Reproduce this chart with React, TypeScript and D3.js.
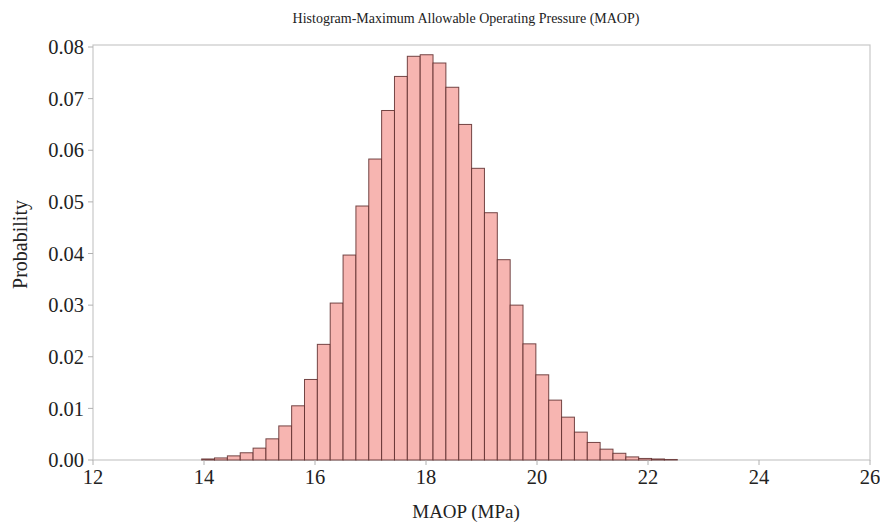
import React from "react";
import * as d3 from "d3";

const title = "Histogram-Maximum Allowable Operating Pressure (MAOP)";
const xLabel = "MAOP (MPa)";
const yLabel = "Probability";
const xTicks = [12, 14, 16, 18, 20, 22, 24, 26];
const yTicks = [0, 0.01, 0.02, 0.03, 0.04, 0.05, 0.06, 0.07, 0.08];
const binStart = 13.958;
const binWidth = 0.2316;
const probabilities = [
  0.0002, 0.0004, 0.0008, 0.0014, 0.0023, 0.0041, 0.0066, 0.0105, 0.0156,
  0.0224, 0.0304, 0.0397, 0.0492, 0.0583, 0.0677, 0.0743, 0.0782, 0.0785,
  0.0769, 0.0722, 0.065, 0.0565, 0.0479, 0.0388, 0.03, 0.0225, 0.0165,
  0.0116, 0.0083, 0.0054, 0.0034, 0.0021, 0.0013, 0.0006, 0.0003, 0.0002,
  0.0001,
];

const W = 880;
const H = 524;
const left = 93;
const right = 870;
const top = 45;
const bottom = 460;
const font =
  "'Times New Roman', Times, 'Liberation Serif', 'DejaVu Serif', 'Noto Serif', serif";

export default function App() {
  const x = d3.scaleLinear().domain([12, 26]).range([left, right]);
  const y = d3.scaleLinear().domain([0, 0.08]).range([bottom, top + 2]);
  const bins = probabilities.map((p, i) => ({
    x0: binStart + i * binWidth,
    x1: binStart + (i + 1) * binWidth,
    p,
  }));
  const txt = { fontFamily: font, fill: "#222" } as React.CSSProperties;
  return (
    <div style={{ fontFamily: font }}>
      <svg
        width={W}
        height={H}
        style={{ position: "absolute", left: 0, top: 0, background: "#fff" }}
      >
        <rect
          x={left}
          y={top}
          width={right - left}
          height={bottom - top}
          fill="none"
          stroke="#c8c8c8"
          strokeWidth={1.2}
        />
        {bins.map((b, i) => (
          <rect
            key={i}
            x={x(b.x0)}
            y={y(b.p)}
            width={x(b.x1) - x(b.x0)}
            height={bottom - y(b.p)}
            fill="#f7b5b1"
            stroke="#5c2a2a"
            strokeOpacity={0.85}
            strokeWidth={1}
          />
        ))}
        {xTicks.map((t) => (
          <g key={t}>
            <line x1={x(t)} x2={x(t)} y1={bottom} y2={bottom + 5} stroke="#b0b0b0" />
            <text
              x={x(t)}
              y={bottom + 24}
              textAnchor="middle"
              style={{ ...txt, fontSize: 20.5 }}
            >
              {t}
            </text>
          </g>
        ))}
        {yTicks.map((t) => (
          <g key={t}>
            <line x1={left - 5} x2={left} y1={y(t)} y2={y(t)} stroke="#b0b0b0" />
            <text
              x={left - 9}
              y={y(t)}
              dy="0.35em"
              textAnchor="end"
              style={{ ...txt, fontSize: 20.5 }}
            >
              {t.toFixed(2)}
            </text>
          </g>
        ))}
        <text x={466} y={23} textAnchor="middle" style={{ ...txt, fontSize: 14 }}>
          {title}
        </text>
        <text x={466} y={518} textAnchor="middle" style={{ ...txt, fontSize: 19 }}>
          {xLabel}
        </text>
        <text
          transform={`translate(27, ${(top + bottom) / 2 - 8}) rotate(-90)`}
          textAnchor="middle"
          style={{ ...txt, fontSize: 20 }}
        >
          {yLabel}
        </text>
      </svg>
    </div>
  );
}
